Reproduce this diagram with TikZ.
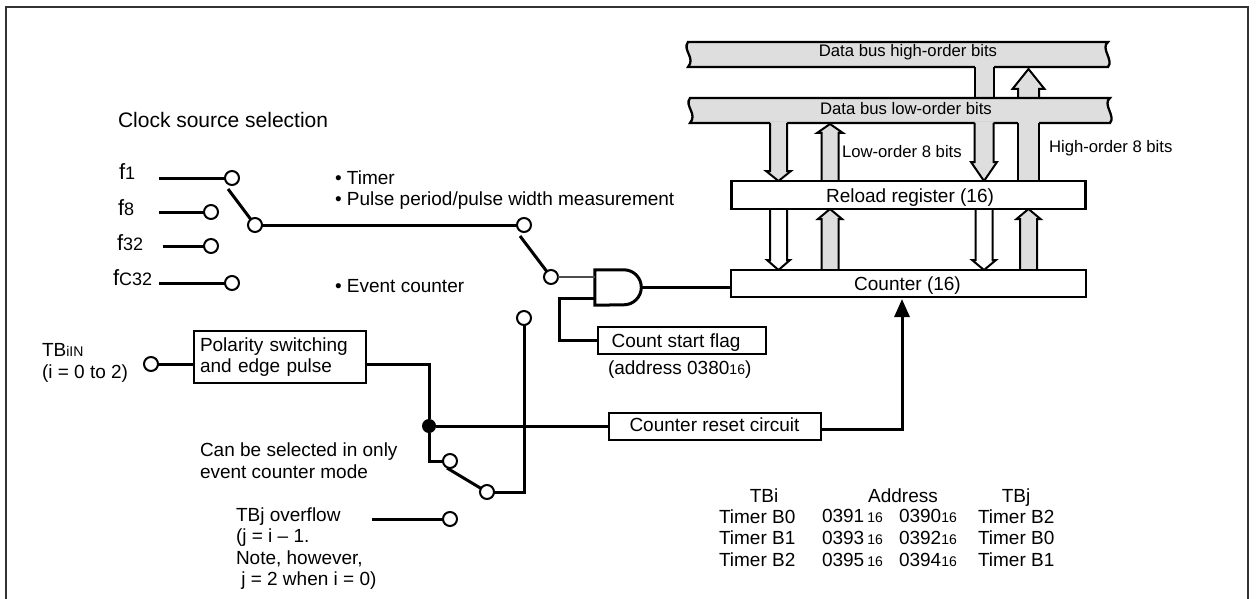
\documentclass[tikz,border=0pt]{standalone}
\usepackage{fontspec}
\setmainfont{Liberation Sans}
\usetikzlibrary{arrows.meta,calc,backgrounds}
\definecolor{busgray}{HTML}{DEDEDE}
\definecolor{framegray}{HTML}{333333}
\newcommand{\sm}[1]{{\fontsize{14}{14}\selectfont #1}}
\newcommand{\fsub}[1]{{\fontsize{18}{18}\selectfont #1}}
% block arrow: fill, start, tip, half width, half head width, head length
\newcommand{\busarrow}[6]{
	\coordinate (ba) at (#2);
	\coordinate (bt) at (#3);
	\coordinate (bn) at ($(bt)!#6pt!(ba)$);
	\coordinate (bs) at ($(ba)!-1.5pt!(bt)$);
	\fill[#1] ($(bs)!#4pt!90:(bt)$) -- ($(bn)!#4pt!90:(bt)$) -- ($(bn)!#5pt!90:(bt)$) -- (bt) -- ($(bn)!#5pt!-90:(bt)$) -- ($(bn)!#4pt!-90:(bt)$) -- ($(bs)!#4pt!-90:(bt)$) -- cycle;
	\draw[blockedge] ($(ba)!#4pt!90:(bt)$) -- ($(bn)!#4pt!90:(bt)$) -- ($(bn)!#5pt!90:(bt)$) -- (bt) -- ($(bn)!#5pt!-90:(bt)$) -- ($(bn)!#4pt!-90:(bt)$) -- ($(ba)!#4pt!-90:(bt)$);
}
% plain stem without head
\newcommand{\busstem}[4]{
	\coordinate (ba) at (#2);
	\coordinate (bt) at (#3);
	\coordinate (bs) at ($(ba)!-1.5pt!(bt)$);
	\fill[#1] ($(bs)!#4pt!90:(bt)$) -- ($(bt)!#4pt!-90:(bs)$) -- ($(bt)!#4pt!90:(bs)$) -- ($(bs)!#4pt!-90:(bt)$) -- cycle;
	\draw[blockedge] ($(ba)!#4pt!90:(bt)$) -- ($(bt)!#4pt!-90:(ba)$);
	\draw[blockedge] ($(ba)!#4pt!-90:(bt)$) -- ($(bt)!#4pt!90:(ba)$);
}

\begin{document}
\begin{tikzpicture}[x=1pt, y=-1pt,
	wire/.style={line width=3pt, line join=miter},
	thinwire/.style={line width=1.5pt, color=black!70},
	blockedge/.style={line width=2pt, line join=miter},
	lab/.style={inner sep=0pt, outer sep=0pt, anchor=west, align=left, font=\fontsize{19}{21.6}\selectfont},
	smalllab/.style={lab, font=\fontsize{16.7}{20}\selectfont},
	headlab/.style={lab, anchor=base},
	regbox/.style={draw, line width=2.3pt, fill=white, inner sep=0pt, outer sep=0pt, font=\fontsize{19}{21.6}\selectfont},
	pin/.style={draw, circle, line width=2pt, fill=white, inner sep=0pt, outer sep=0pt, minimum size=14pt},
	dot/.style={circle, fill=black, inner sep=0pt, outer sep=0pt, minimum size=14pt},
	busbody/.style={inner sep=0pt, outer sep=0pt, minimum width=420pt, minimum height=25pt},
	busline/.style={draw, line width=2.3pt, fill=busgray}
	]
	\useasboundingbox (0,0) rectangle (1260,599);
	\draw[line width=2.2pt, color=framegray] (6,599) -- (6,7) -- (1248,7) -- (1248,599);

	% Registers and boxes
	\node[regbox, minimum width=354pt, minimum height=28pt] (reload) at (908.5,195) {};
	\node[regbox, minimum width=355pt, minimum height=27pt] (counter) at (908.5,283.5) {};
	\node[regbox, minimum width=168pt, minimum height=27pt] (flag) at (682,340.5) {};
	\node[regbox, minimum width=212pt, minimum height=27pt] (reset) at (715,426.5) {};
	\node[regbox, minimum width=172pt, minimum height=52pt, text width=160pt, align=left] (polarity) at (280,357) {Polarity switching\\and edge pulse};
	\node[busbody] (highbus) at (898,54.5) {};
	\node[busbody] (lowbus) at (900,110.5) {};
	\node[inner sep=0pt, minimum width=46pt, minimum height=35pt] (gate) at (618,287.5) {};

	% Box texts
	\node[lab, anchor=base] (reloadtext) at (910,202) {Reload register (16)};
	\node[lab, anchor=base] (countertext) at (907.5,290) {Counter (16)};
	\node[lab, anchor=base] (flagtext) at (676,347) {Count start flag};
	\node[lab, anchor=base] (resettext) at (714.5,431) {Counter reset circuit};

	% Bus columns
	\coordinate (colA) at (778.5,0);
	\coordinate (colB) at (830,0);
	\coordinate (colC) at (984,0);
	\coordinate (colD) at (1028.5,0);

	\begin{pgfonlayer}{background}
		\path[busline] (highbus.north west) -- (highbus.north east) .. controls +(-8,6) and +(6,-7) .. (highbus.south east) -- (highbus.south west) .. controls +(8,-9) and +(-6,8) .. (highbus.north west) -- cycle;
		\busstem{busgray}{colC |- highbus.south}{colC |- lowbus.north}{9.5}
		\busarrow{busgray}{colD |- lowbus.north}{$(colD |- highbus.south)+(0,2)$}{10.5}{16}{20}
		\path[busline] (lowbus.north west) -- (lowbus.north east) .. controls +(-8,6) and +(6,-7) .. (lowbus.south east) -- (lowbus.south west) .. controls +(8,-9) and +(-6,8) .. (lowbus.north west) -- cycle;
		\busarrow{busgray}{colA |- lowbus.south}{colA |- reload.north}{8.5}{12.5}{10}
		\busarrow{busgray}{colB |- reload.north}{$(colB |- lowbus.south)+(0,1)$}{8.5}{13}{9}
		\busarrow{busgray}{colC |- lowbus.south}{colC |- reload.north}{9.5}{13}{19}
		\busstem{busgray}{colD |- lowbus.south}{colD |- reload.north}{10.5}
		\busarrow{white}{colA |- reload.south}{colA |- counter.north}{8.5}{11.5}{10}
		\busarrow{busgray}{colB |- counter.north}{colB |- reload.south}{8.5}{12}{10}
		\busarrow{white}{colC |- reload.south}{colC |- counter.north}{8.5}{12}{10}
		\busarrow{busgray}{colD |- counter.north}{colD |- reload.south}{8.5}{12}{10}
	\end{pgfonlayer}

	% Bus labels
	\node[smalllab, anchor=center] (hightext) at (908,52) {Data bus high-order bits};
	\node[smalllab, anchor=center] (lowtext) at (906,109) {Data bus low-order bits};
	\node[smalllab] (lowbits) at (842,152) {Low-order 8 bits};
	\node[smalllab] (highbits) at (1049,148) {High-order 8 bits};

	% Clock source selection
	\node[lab, font=\fontsize{21}{24}\selectfont] (clocktitle) at (118,120) {Clock source selection};
	\node[lab, font=\fontsize{22}{24}\selectfont] (fone) at (119,172) {f\fsub{1}};
	\node[lab, font=\fontsize{22}{24}\selectfont] (feight) at (118,208) {f\fsub{8}};
	\node[lab, font=\fontsize{22}{24}\selectfont] (fthirtytwo) at (117,243) {f\fsub{32}};
	\node[lab, font=\fontsize{22}{24}\selectfont] (fcthirtytwo) at (113,278) {f\fsub{C32}};

	\node[pin] (pinone) at (232,178) {};
	\node[pin] (pineight) at (211,212) {};
	\node[pin] (pinthirtytwo) at (211,246) {};
	\node[pin] (pinfc) at (232,283) {};
	\node[pin] (pinclock) at (255,225) {};
	\node[pin] (pintimer) at (524,225) {};
	\node[pin] (pingate) at (551,277) {};
	\node[pin] (pinevent) at (524,318) {};
	\coordinate (inone) at (159,178);
	\coordinate (ineight) at (159,212);
	\coordinate (inthirtytwo) at (163,246);
	\coordinate (infc) at (159,283);
	\coordinate (bladeone) at (228,189);
	\coordinate (bladetimer) at (520,236);

	\draw[wire] (inone) -- (pinone);
	\draw[wire] (ineight) -- (pineight);
	\draw[wire] (inthirtytwo) -- (pinthirtytwo);
	\draw[wire] (infc) -- (pinfc);
	\draw[wire] (bladeone) -- (pinclock);
	\draw[wire] (pinclock) -- (pintimer);
	\draw[wire] (bladetimer) -- (pingate);

	\node[lab] (timertext) at (335,190) {\textbullet\ Timer\\\textbullet\ Pulse period/pulse width measurement};
	\node[lab] (eventtext) at (335,286) {\textbullet\ Event counter};

	% AND gate
	\draw[wire] (gate.north west) -- ++(29,0) arc[start angle=90, end angle=-90, radius=17.5pt] -- (gate.south west) -- cycle;
	\draw[thinwire] (pingate) -- (pingate -| gate.west);
	\coordinate (flagelbow) at (559,298);
	\draw[wire] (flag.west) -| (flagelbow) -- (flagelbow -| gate.west);
	\draw[wire] (gate.east) -- (gate.east -| counter.west);
	\node[lab] (flagaddr) at (608,370) {(address 0380\sm{16})};

	% Event counter input
	\node[lab] (tbin) at (42,363) {TB\sm{iIN}\\(i = 0 to 2)};
	\node[pin] (pintbin) at (151,364) {};
	\draw[wire] (pintbin) -- (pintbin -| polarity.west);
	\node[dot] (junction) at (429,426) {};
	\node[pin] (pinsela) at (450,461) {};
	\node[pin] (pinselb) at (487,492) {};
	\node[pin] (pinover) at (450,519) {};
	\coordinate (inover) at (372,519);
	\coordinate (bladesel) at (447,468);
	\coordinate (resetup) at (902,0);
	\draw[wire] (pintbin -| polarity.east) -| (junction);
	\draw[wire] (junction) -- (junction -| reset.west);
	\draw[wire] (junction) |- (pinsela);
	\draw[wire] (bladesel) -- (pinselb);
	\draw[wire] (pinselb) -| (pinevent);
	\draw[wire] (inover) -- (pinover);
	\draw[wire, shorten >=2pt, -{Triangle[length=18pt,width=15pt]}] ($(reset.east)+(0,2.5)$) -| (counter.south -| resetup);

	\node[lab] (seltext) at (200,461) {Can be selected in only\\event counter mode};
	\node[lab] (overtext) at (236,548.5) {TBj overflow\\(j = i -- 1.\\Note, however,\\\ j = 2 when i = 0)};

	% Address table
	\node[headlab] (headi) at (764,502) {TBi};
	\node[headlab] (headaddr) at (903,502) {Address};
	\node[headlab] (headj) at (1016,502) {TBj};
	\node[lab] (coltimeri) at (719,538) {Timer B0\\Timer B1\\Timer B2};
	\node[lab] (coladdrhi) at (822,538) {0391\,\sm{16}\\0393\,\sm{16}\\0395\,\sm{16}};
	\node[lab] (coladdrlo) at (899,538) {0390\sm{16}\\0392\sm{16}\\0394\sm{16}};
	\node[lab] (coltimerj) at (978,538) {Timer B2\\Timer B0\\Timer B1};
\end{tikzpicture}
\end{document}
